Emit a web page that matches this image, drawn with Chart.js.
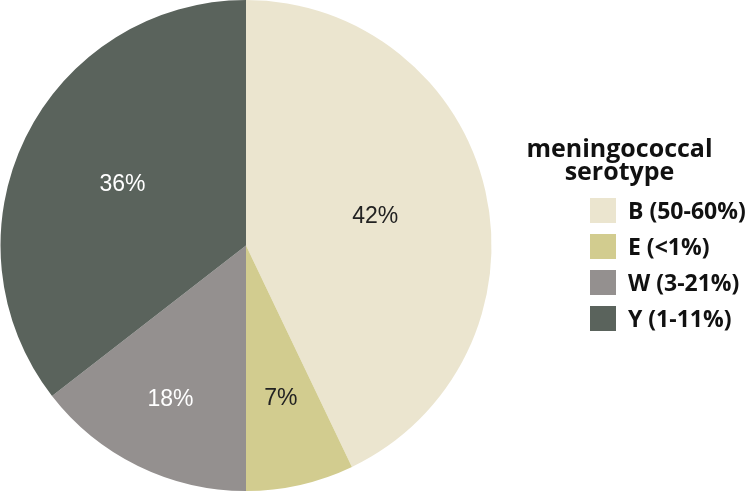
<!DOCTYPE html>
<html>
<head>
<meta charset="utf-8">
<script src="https://cdn.jsdelivr.net/npm/chart.js@4.4.0/dist/chart.umd.min.js"></script>
<style>
	html, body { margin: 0; padding: 0; background: #fff; }
	#wrap { position: relative; width: 749px; height: 491px; }
	#legend { position: absolute; left: 500px; top: 136px; width: 249px; font-family: "Open Sans", sans-serif; font-weight: bold; color: #111; }
	#legend .title { text-align: center; font-size: 25px; line-height: 23px; width: 239px; }
	#legend ul { list-style: none; margin: 10px 0 0 90px; padding: 0; }
	#legend li { display: flex; align-items: center; height: 36px; font-size: 23px; white-space: nowrap; }
	#legend li span.box { display: inline-block; width: 26px; height: 25px; margin-right: 12px; }
</style>
</head>
<body>
<div id="wrap">
	<canvas id="pie" width="749" height="491"></canvas>
	<div id="legend"></div>
</div>
<script>
const categories = ['B (50-60%)', 'E (<1%)', 'W (3-21%)', 'Y (1-11%)']
// slice sizes as drawn
const sliceValues = [42.9, 7.1, 14.5, 35.5]
// the percentages printed on the slices
const sliceLabels = ['42%', '7%', '18%', '36%']
const legendTitle = ['meningococcal', 'serotype']

const colors = ['#ebe5cf', '#d2cc8f', '#94908f', '#5a635c']
const labelColors = ['#222', '#222', '#fff', '#fff']
const labelRadius = [0.54, 0.64, 0.70, 0.56]

const sliceText = {
	id: 'sliceText',
	afterDatasetsDraw (chart) {
		const ctx = chart.ctx
		const meta = chart.getDatasetMeta(0)
		ctx.save()
		ctx.font = '23px "Liberation Sans", Arial, sans-serif'
		ctx.textAlign = 'center'
		ctx.textBaseline = 'middle'
		meta.data.forEach((arc, i) => {
			const p = arc.getProps(['x', 'y', 'startAngle', 'endAngle', 'outerRadius'], true)
			const mid = (p.startAngle + p.endAngle) / 2
			const r = p.outerRadius * labelRadius[i]
			ctx.fillStyle = labelColors[i]
			ctx.fillText(sliceLabels[i], p.x + Math.cos(mid) * r, p.y + Math.sin(mid) * r)
		})
		ctx.restore()
	}
}

new Chart(document.getElementById('pie'), {
	type: 'pie',
	data: {
		labels: categories,
		datasets: [{
			data: sliceValues,
			backgroundColor: colors,
			borderWidth: 0
		}]
	},
	options: {
		responsive: false,
		animation: false,
		layout: { padding: { left: 0, right: 257, top: 0, bottom: 0 } },
		plugins: {
			legend: { display: false },
			tooltip: { enabled: false }
		}
	},
	plugins: [sliceText]
})

const legend = document.getElementById('legend')
let html = '<div class="title">' + legendTitle.join('<br>') + '</div><ul>'
categories.forEach((c, i) => {
	html += '<li><span class="box" style="background:' + colors[i] + '"></span>' + c.replace('<', '&lt;') + '</li>'
})
legend.innerHTML = html + '</ul>'
</script>
</body>
</html>
